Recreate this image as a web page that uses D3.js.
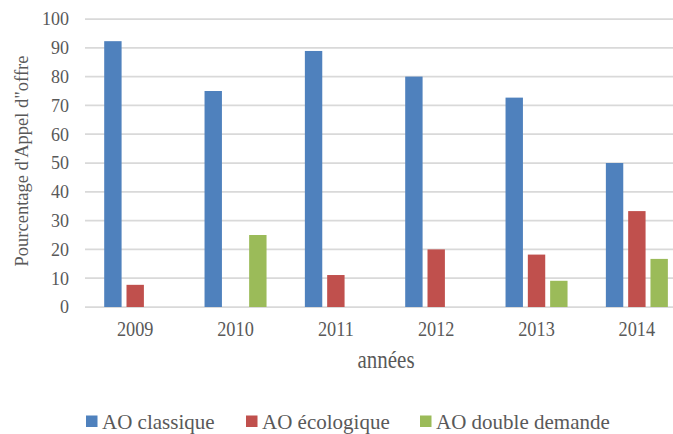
<!DOCTYPE html>
<html>
<head>
<meta charset="utf-8">
<script src="https://cdn.jsdelivr.net/npm/d3@7"></script>
</head>
<body style="margin:0">
<script>
// data
var years = ["2009", "2010", "2011", "2012", "2013", "2014"];
var series = ["AO classique", "AO écologique", "AO double demande"];
var classique = [92.3, 75, 88.9, 80, 72.7, 50];
var ecologique = [7.7, 0, 11.1, 20, 18.2, 33.3];
var doubleDemande = [0, 25, 0, 0, 9.1, 16.7];
var yTicks = [0, 10, 20, 30, 40, 50, 60, 70, 80, 90, 100];
var colors = ["#4f81bd", "#c0504d", "#9bbb59"];

var w = 673, h = 434;
var values = [classique, ecologique, doubleDemande];
var font = "'Liberation Serif'";
var grey = "#595959";

var svg = d3.select("body").append("svg")
  .attr("width", w)
  .attr("height", h);

// the plot runs past the right edge of the picture
var x0 = d3.scaleBand().domain(years).range([85, 687]);
var x1 = d3.scaleBand().domain(series)
  .range([19.2, 81.2])
  .paddingInner(0.22);
var y = d3.scaleLinear().domain([0, 100]).range([307, 19]);

// gridlines
svg.append("g")
  .selectAll("line")
  .data(yTicks)
  .enter().append("line")
  .attr("x1", 85)
  .attr("x2", 687)
  .attr("y1", d => y(d))
  .attr("y2", d => y(d))
  .attr("stroke", "#d9d9d9")
  .attr("stroke-width", 1.75);

// y tick labels
svg.append("g")
  .selectAll("text")
  .data(yTicks)
  .enter().append("text")
  .attr("x", 69)
  .attr("y", d => y(d))
  .attr("dy", "0.35em")
  .attr("text-anchor", "end")
  .style("font-family", font)
  .style("font-size", "18px")
  .style("fill", grey)
  .text(d => d);

// bars
var groups = svg.append("g")
  .selectAll("g")
  .data(years)
  .enter().append("g")
  .attr("transform", d => "translate(" + x0(d) + ",0)");

groups.selectAll("rect")
  .data((d, i) => series.map((s, j) => ({ s: s, j: j, v: values[j][i] })))
  .enter().append("rect")
  .filter(d => d.v > 0)
  .attr("x", d => x1(d.s))
  .attr("width", x1.bandwidth())
  .attr("y", d => y(d.v))
  .attr("height", d => y(0) - y(d.v))
  .attr("fill", d => colors[d.j]);

// x tick labels (slightly stretched vertically like the original)
svg.append("g")
  .selectAll("text")
  .data(years)
  .enter().append("text")
  .attr("transform", d => "translate(" + (x0(d) + x0.bandwidth() / 2) + ",336) scale(1,1.12)")
  .attr("text-anchor", "middle")
  .style("font-family", font)
  .style("font-size", "18.3px")
  .style("fill", grey)
  .text(d => d);

// axis titles
svg.append("text")
  .attr("transform", "translate(386,368) scale(1,1.15)")
  .attr("text-anchor", "middle")
  .style("font-family", font)
  .style("font-size", "21px")
  .style("fill", grey)
  .text("années");

svg.append("text")
  .attr("transform", "translate(28,161) rotate(-90)")
  .attr("text-anchor", "middle")
  .style("font-family", font)
  .style("font-size", "18.5px")
  .style("fill", grey)
  .text("Pourcentage d'Appel d\"offre");

// legend
var legendX = [86, 246, 420];
var legend = svg.append("g")
  .selectAll("g")
  .data(series)
  .enter().append("g")
  .attr("transform", (d, i) => "translate(" + legendX[i] + ",415.5)");

legend.append("rect")
  .attr("width", 11.5)
  .attr("height", 11.5)
  .attr("fill", (d, i) => colors[i]);

legend.append("text")
  .attr("x", 16)
  .attr("y", 13.5)
  .style("font-family", font)
  .style("font-size", "21px")
  .style("fill", grey)
  .text(d => d);
</script>
</body>
</html>
